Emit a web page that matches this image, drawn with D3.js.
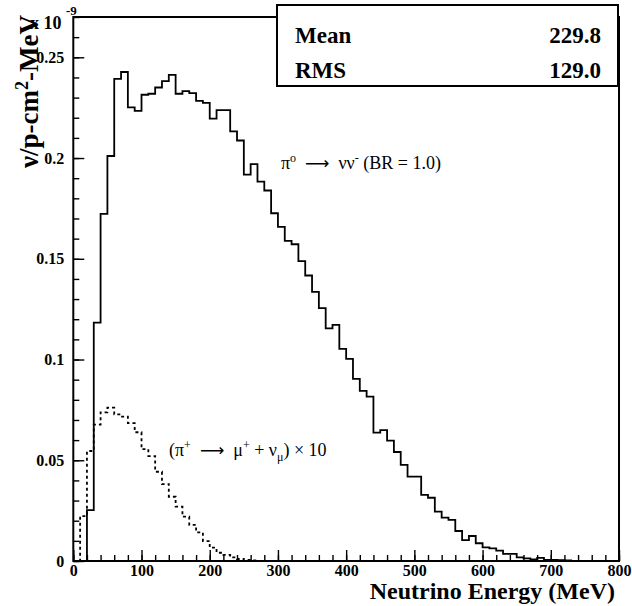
<!DOCTYPE html>
<html>
<head>
<meta charset="utf-8">
<script src="https://cdn.jsdelivr.net/npm/d3@7"></script>
<style>
body { margin: 0; background: #fff; }
svg text { font-family: "Liberation Serif", "DejaVu Serif", "Times New Roman", Times, serif; fill: #000; }
</style>
</head>
<body>
<div id="chart"></div>
<script>
var width = 632
var height = 606
var serif = '"Liberation Serif", "DejaVu Serif", "Times New Roman", Times, serif'

// histogram bins: 10 MeV wide, starting at 0
var binStart = 0
var binWidth = 10

// pi0 -> nu nubar, flux per bin (x 1e-9)
var pi0Flux = [0, 0, 0.0253, 0.1183, 0.1723, 0.2010, 0.2393, 0.2427, 0.2251, 0.2234,
    0.2314, 0.2319, 0.2350, 0.2382, 0.2413, 0.2319, 0.2332, 0.2322, 0.2284, 0.2274,
    0.2196, 0.2238, 0.2238, 0.2132, 0.2087, 0.1918, 0.1970, 0.1883, 0.1839, 0.1726,
    0.1658, 0.1589, 0.1572, 0.1488, 0.1417, 0.1336, 0.1255, 0.1155, 0.1172, 0.1053,
    0.1003, 0.0904, 0.0844, 0.0816, 0.0637, 0.0650, 0.0597, 0.0541, 0.0477, 0.0419,
    0.0419, 0.0328, 0.0314, 0.0245, 0.0215, 0.0204, 0.0149, 0.0104, 0.0124, 0.0088,
    0.0068, 0.0063, 0.0051, 0.0035, 0.0035, 0.0018, 0.0013, 0.0008, 0.0016, 0.0005,
    0.0005, 0.0004, 0.0003, 0, 0, 0, 0, 0, 0, 0]

// pi+ -> mu+ nu_mu, scaled x10
var piPlusFlux = [0, 0.0223, 0.0546, 0.0677, 0.0738, 0.0761, 0.0728, 0.0717, 0.0684, 0.0639,
    0.0555, 0.0521, 0.0443, 0.0382, 0.0319, 0.0270, 0.0220, 0.0179, 0.0142, 0.0099,
    0.0066, 0.0041, 0.0030, 0.0018, 0.0010, 0.0005, 0.0003, 0.0001]

var xTicks = [0, 100, 200, 300, 400, 500, 600, 700, 800]
var yTicks = [0, 0.05, 0.1, 0.15, 0.2, 0.25]
var statNames = ['Mean', 'RMS']
var statValues = ['229.8', '129.0']

var margin = { left: 73.3, right: 13, top: 17, bottom: 45 }

var x = d3.scaleLinear()
    .domain([0, 800])
    .range([margin.left, width - margin.right])

var y = d3.scaleLinear()
    .domain([0, 0.27])
    .range([height - margin.bottom, margin.top])

var svg = d3.select('#chart').append('svg')
    .attr('width', width)
    .attr('height', height)
    .style('font-family', serif)

// step outline of a histogram, the way ROOT draws it
function stepPath(vals) {
    var pts = [[x(binStart), y(0)]]
    vals.forEach(function(v, i) {
        var lo = binStart + i * binWidth
        pts.push([x(lo), y(v)])
        pts.push([x(lo + binWidth), y(v)])
    })
    pts.push([x(binStart + vals.length * binWidth), y(0)])
    return d3.line()(pts)
}

svg.append('path')
    .attr('d', stepPath(piPlusFlux))
    .attr('fill', 'none')
    .attr('stroke', '#000')
    .attr('stroke-width', 1.8)
    .attr('stroke-dasharray', '3,3')

svg.append('path')
    .attr('d', stepPath(pi0Flux))
    .attr('fill', 'none')
    .attr('stroke', '#000')
    .attr('stroke-width', 1.8)

// axes, ticks pointing inside
var xMinor = d3.range(0, 801, 20)
var yMinor = d3.range(0, 0.2705, 0.01)

svg.append('g')
    .attr('transform', 'translate(0,' + y(0) + ')')
    .call(d3.axisBottom(x).tickValues(xMinor).tickSize(-6).tickFormat(''))
svg.append('g')
    .attr('class', 'x axis')
    .attr('transform', 'translate(0,' + y(0) + ')')
    .call(d3.axisBottom(x).tickValues(xTicks).tickSize(-11).tickPadding(4).tickFormat(d3.format('d')))

svg.append('g')
    .attr('transform', 'translate(' + x(0) + ',0)')
    .call(d3.axisLeft(y).tickValues(yMinor).tickSize(-6).tickFormat(''))
svg.append('g')
    .attr('class', 'y axis')
    .attr('transform', 'translate(' + x(0) + ',0)')
    .call(d3.axisLeft(y).tickValues(yTicks).tickSize(-11).tickPadding(9)
        .tickFormat(function(d) { return String(+d.toFixed(2)) }))

svg.selectAll('g').attr('font-family', serif)
svg.selectAll('.domain').remove()
svg.selectAll('.tick line').attr('stroke', '#000').attr('stroke-width', 1.4)
svg.selectAll('.axis text')
    .style('font-family', serif)
    .style('font-size', '16px')
    .style('font-weight', 'bold')
    .attr('fill', '#000')

// frame
svg.append('rect')
    .attr('x', x(0))
    .attr('y', y(0.27))
    .attr('width', x(800) - x(0))
    .attr('height', y(0) - y(0.27))
    .attr('fill', 'none')
    .attr('stroke', '#000')
    .attr('stroke-width', 2)

// stats box
svg.append('rect')
    .attr('x', 277)
    .attr('y', 5)
    .attr('width', 341)
    .attr('height', 81)
    .attr('fill', '#fff')
    .attr('stroke', '#000')
    .attr('stroke-width', 2)

statNames.forEach(function(name, i) {
    svg.append('text')
        .attr('x', 295)
        .attr('y', 43 + i * 35)
        .style('font-size', '23px')
        .style('font-weight', 'bold')
        .text(name)
    svg.append('text')
        .attr('x', 601)
        .attr('y', 43 + i * 35)
        .attr('text-anchor', 'end')
        .style('font-size', '23px')
        .style('font-weight', 'bold')
        .text(statValues[i])
})

// axis titles
svg.append('text')
    .attr('x', 615)
    .attr('y', 599)
    .attr('text-anchor', 'end')
    .style('font-size', '24px')
    .style('font-weight', 'bold')
    .text('Neutrino Energy (MeV)')

var ylab = svg.append('text')
    .attr('transform', 'translate(37.5,15) rotate(-90)')
    .attr('text-anchor', 'end')
    .style('font-size', '27px')
    .style('font-weight', 'bold')
ylab.append('tspan').text('ν/p-cm')
ylab.append('tspan').attr('dy', -10).style('font-size', '18px').text('2')
ylab.append('tspan').attr('dy', 10).text('-MeV')

svg.append('text')
    .attr('x', 30)
    .attr('y', 29)
    .style('font-size', '18px')
    .style('font-weight', 'bold')
    .text('x 10')
svg.append('text')
    .attr('x', 66)
    .attr('y', 15)
    .style('font-size', '13px')
    .style('font-weight', 'bold')
    .text('-9')

// curve labels; nbsp keeps the spaces between tspans
var sp = '\u00a0'
function arrow(t, dy) {
    t.append('tspan').attr('dy', dy).text(sp + sp)
    t.append('tspan').style('font-family', '"DejaVu Sans", sans-serif').style('font-size', '17px').text('⟶')
    t.append('tspan').text(sp + sp)
}

var lab1 = svg.append('text')
    .attr('x', 281)
    .attr('y', 169)
    .style('font-size', '18px')
lab1.append('tspan').text('π')
lab1.append('tspan').attr('dy', -7).style('font-size', '12px').text('o')
arrow(lab1, 7)
lab1.append('tspan').text('νν')
lab1.append('tspan').attr('dy', -7).style('font-size', '12px').text('-')
lab1.append('tspan').attr('dy', 7).text(sp + '(BR = 1.0)')

var lab2 = svg.append('text')
    .attr('x', 169)
    .attr('y', 456)
    .style('font-size', '18px')
lab2.append('tspan').text('(π')
lab2.append('tspan').attr('dy', -7).style('font-size', '12px').text('+')
arrow(lab2, 7)
lab2.append('tspan').text('μ')
lab2.append('tspan').attr('dy', -7).style('font-size', '12px').text('+')
lab2.append('tspan').attr('dy', 7).text(sp + '+' + sp + 'ν')
lab2.append('tspan').attr('dy', 5).style('font-size', '12px').text('μ')
lab2.append('tspan').attr('dy', -5).text(')' + sp + '×' + sp + '10')
</script>
</body>
</html>
